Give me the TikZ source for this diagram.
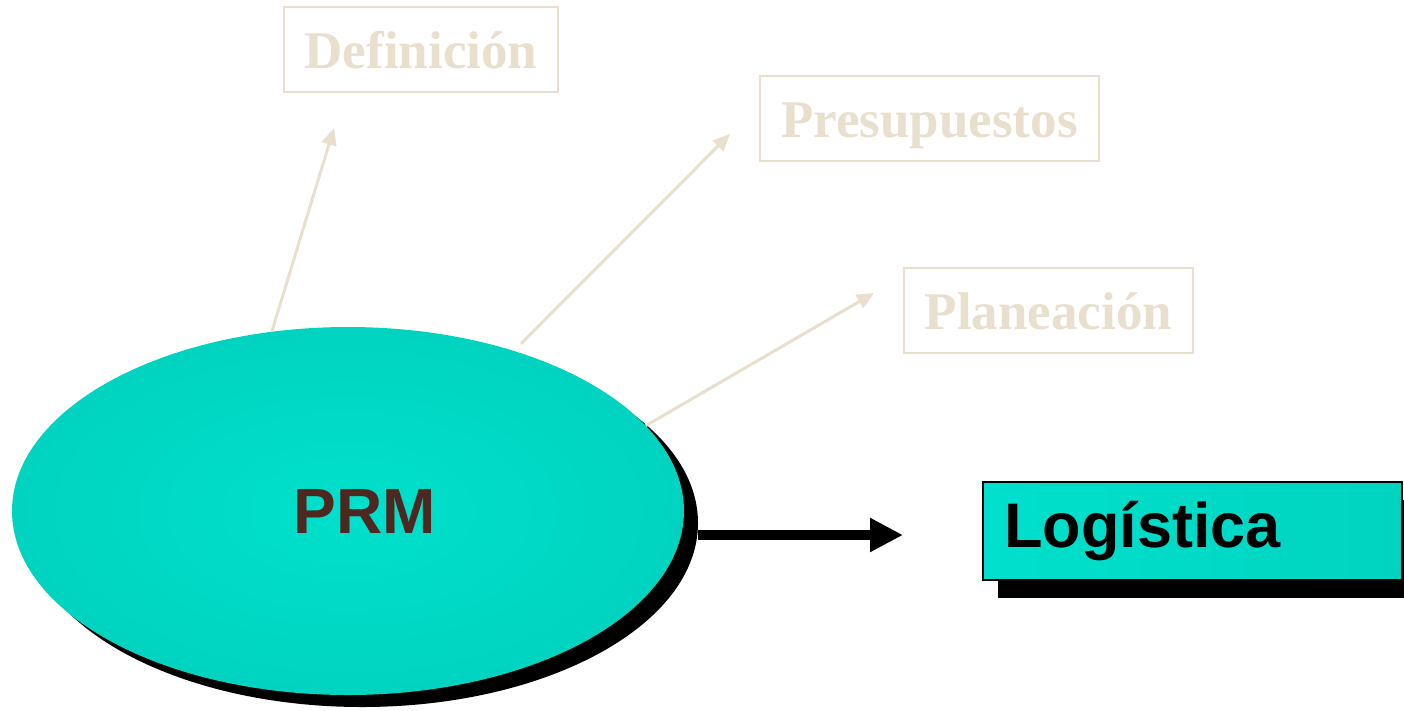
\documentclass[tikz,border=0pt]{standalone}
\usepackage{fontspec}
\setmainfont{Liberation Serif}
\newfontfamily\arialbold{Liberation Sans}[]
\usetikzlibrary{shapes.geometric,shadows,arrows.meta}
\definecolor{beige}{RGB}{232,223,204}
\definecolor{tealA}{RGB}{0,224,204}
\definecolor{tealB}{RGB}{0,212,192}
\definecolor{prmbrown}{RGB}{78,40,32}
\tikzset{
  beigebox/.style={draw=beige, line width=2.5pt, rectangle, inner sep=0pt,
    minimum height=85pt, text height=37pt, text depth=0pt,
    text=beige, font=\fontsize{53}{60}\selectfont\bfseries},
  beigearrow/.style={draw=beige, line width=3pt, -{Triangle[length=17pt,width=15pt]}},
  bigarrow/.style={draw=black, line width=10pt, -{Triangle[length=33pt,width=32pt]}},
}
\begin{document}
\begin{tikzpicture}[x=1pt,y=-1pt]
\useasboundingbox (0,0) rectangle (1404,710);
% nodes
\node[beigebox, minimum width=274pt] (defn) at (421,49.5) {Definición};
\node[beigebox, minimum width=339pt] (pres) at (929.5,118.5) {Presupuestos};
\node[beigebox, minimum width=289pt] (plan) at (1048.5,310.5) {Planeación};
\coordinate (defntip) at (334,128);
\coordinate (prestip) at (730,134);
\coordinate (plantip) at (874,293);
\coordinate (logtip) at (903,535);
\node[ellipse, inner sep=0pt, minimum width=672pt, minimum height=368pt,
      inner color=tealA, outer color=tealB,
      drop shadow={shadow xshift=14pt, shadow yshift=-12pt, fill=black, opacity=1},
      text=prmbrown, font=\arialbold\bfseries\fontsize{64}{70}\selectfont]
      (prm) at (348,511) {\kern34pt PRM};
\node[rectangle, draw=black, line width=2pt,
      left color=tealA, right color=tealB,
      drop shadow={shadow xshift=15pt, shadow yshift=-18pt, fill=black, opacity=1},
      minimum width=419pt, minimum height=98pt, inner xsep=21pt, inner ysep=0pt,
      text width=377pt, align=left,
      font=\arialbold\bfseries\fontsize{63}{70}\selectfont]
      (log) at (1192.5,531) {Logística};
% connectors
\draw[beigearrow] (prm.113) -- (defntip);
\draw[beigearrow, shorten <=10pt] (prm.44) -- (prestip);
\draw[beigearrow] (prm.16) -- (plantip);
\draw[bigarrow] ([yshift=-24pt,xshift=14pt]prm.east) -- (logtip);
\end{tikzpicture}
\end{document}
